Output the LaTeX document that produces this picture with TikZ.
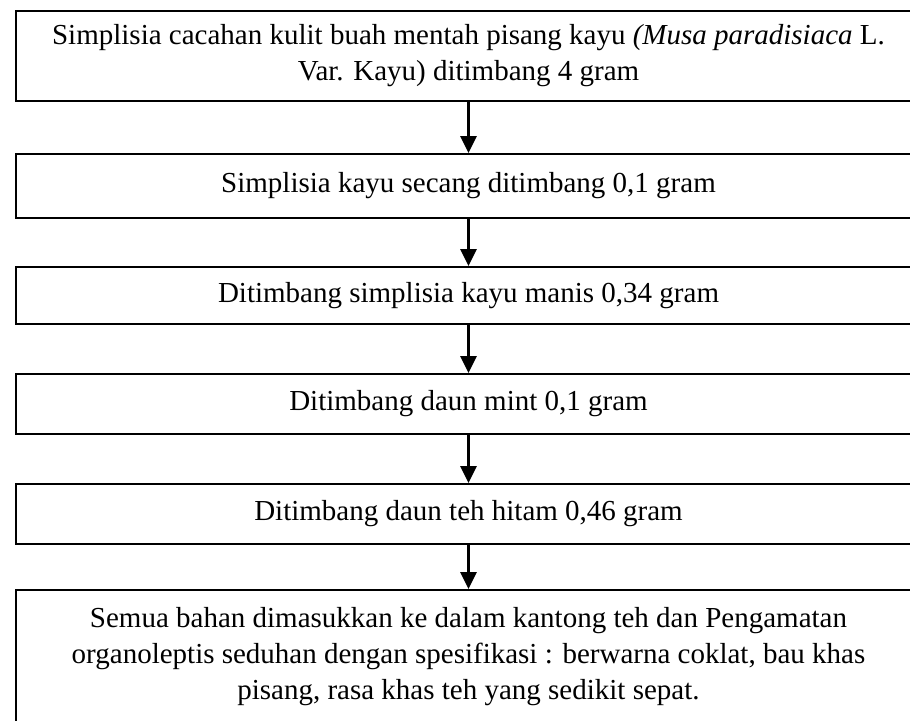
\documentclass[tikz,border=0pt]{standalone}
\usepackage{fontspec}
\setmainfont{Liberation Serif}
\usetikzlibrary{arrows.meta}
\begin{document}
\begin{tikzpicture}[x=0.5pt,y=-0.5pt,
  box/.style={draw, line width=1pt, rectangle, anchor=north west,
    minimum width=452.5pt, inner sep=0pt, align=center,
    font=\fontsize{14.5}{18}\selectfont},
  arr/.style={line width=1.5pt, -{Triangle[width=8pt,length=8.5pt]}}]
\useasboundingbox (0,0) rectangle (910,720);
\fill[white] (0,0) rectangle (910,720);
\clip (0,0) rectangle (910,720);
\node[box, minimum height=45pt] (b1) at (15,10)
  {Simplisia cacahan kulit buah mentah pisang kayu \textit{(Musa paradisiaca} L.\\
   Var. Kayu) ditimbang 4 gram};
\node[box, minimum height=32pt] (b2) at (15,153)
  {Simplisia kayu secang ditimbang 0,1 gram};
\node[box, minimum height=28.5pt] (b3) at (15,266)
  {Ditimbang simplisia kayu manis 0,34 gram};
\node[box, minimum height=30pt] (b4) at (15,373)
  {Ditimbang daun mint 0,1 gram};
\node[box, minimum height=30pt] (b5) at (15,483)
  {Ditimbang daun teh hitam 0,46 gram};
\node[box, minimum height=66.5pt] (b6) at (15,589)
  {Semua bahan dimasukkan ke dalam kantong teh dan Pengamatan\\
   organoleptis seduhan dengan spesifikasi : berwarna coklat, bau khas\\
   pisang, rasa khas teh yang sedikit sepat.};
\draw[arr] (b1.south) -- (b2.north);
\draw[arr] (b2.south) -- (b3.north);
\draw[arr] (b3.south) -- (b4.north);
\draw[arr] (b4.south) -- (b5.north);
\draw[arr] (b5.south) -- (b6.north);
\end{tikzpicture}
\end{document}
